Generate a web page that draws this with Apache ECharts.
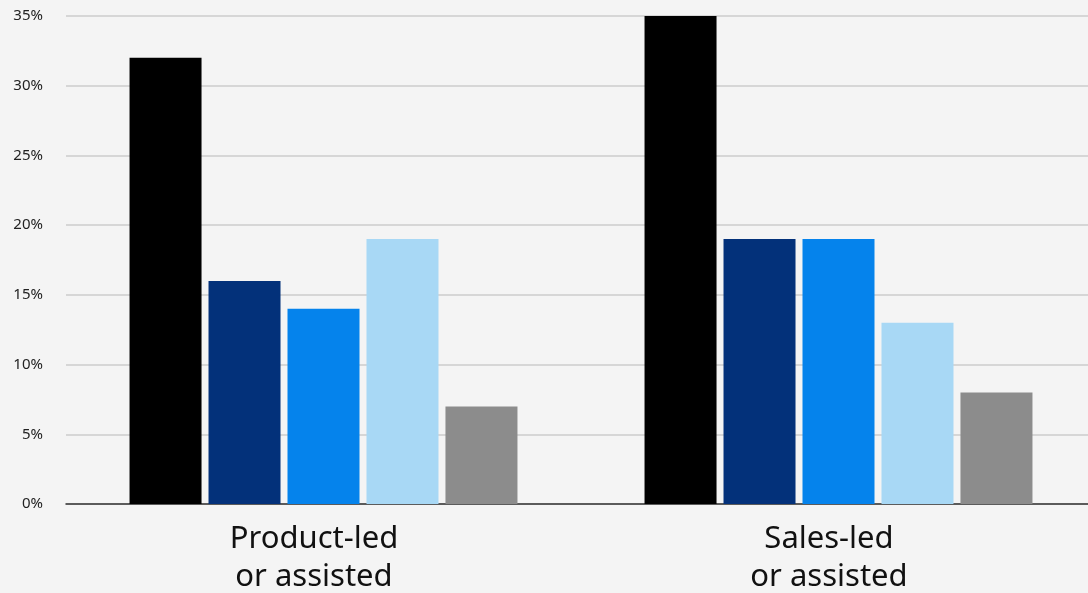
<!DOCTYPE html>
<html><head><meta charset="utf-8">
<script src="https://cdn.jsdelivr.net/npm/echarts@6/dist/echarts.min.js"></script>
<style>html,body{margin:0;padding:0;background:#f4f4f4;}#c{width:1088px;height:593px;}</style>
</head><body><div id="c"></div>
<script>
var categories = ['Product-led\nor assisted', 'Sales-led\nor assisted'];
var s1 = [32, 35];
var s2 = [16, 19];
var s3 = [14, 19];
var s4 = [19, 13];
var s5 = [7, 8];
var yTicks = [0, 5, 10, 15, 20, 25, 30, 35];
var colors = ['#000000', '#03317a', '#0583ec', '#a8d8f5', '#8c8c8c'];
var chart = echarts.init(document.getElementById('c'));
var seriesData = [s1, s2, s3, s4, s5];
chart.setOption({
  backgroundColor: '#f4f4f4',
  animation: false,
  grid: {left: 66, width: 1030, top: 16, height: 488, outerBoundsMode: 'none', containLabel: false},
  xAxis: {
    type: 'category', data: categories,
    axisLine: {lineStyle: {color: '#333', width: 1.5}},
    axisTick: {show: false},
    axisLabel: {fontFamily: 'Noto Sans', fontSize: 31, color: '#111', lineHeight: 38, margin: 16, padding: [0, 19, 0, 0]}
  },
  yAxis: {
    type: 'value', min: yTicks[0], max: yTicks[yTicks.length-1], interval: 5,
    axisLabel: {formatter: '{value}%', fontFamily: 'Noto Sans', fontSize: 15, color: '#222', margin: 23},
    splitLine: {lineStyle: {color: '#cccccc', width: 1.5}},
    axisLine: {show: false}, axisTick: {show: false}
  },
  series: seriesData.map(function(d, i){
    return {type: 'bar', data: d, barWidth: 72, barGap: '9.7%', itemStyle: {color: colors[i]}};
  })
});
</script></body></html>
